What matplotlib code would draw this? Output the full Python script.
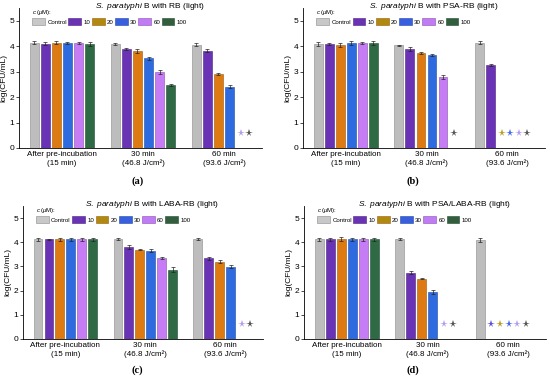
import numpy as np
import matplotlib.pyplot as plt
from matplotlib.patches import Patch

plt.rcParams['font.family'] = 'Liberation Sans'
plt.rcParams['mathtext.fontset'] = 'custom'
plt.rcParams['mathtext.rm'] = 'Liberation Sans'
plt.rcParams['mathtext.it'] = 'Liberation Sans:italic'

groups = ['After pre-incubation\n(15 min)', '30 min\n(46.8 J/cm²)', '60 min\n(93.6 J/cm²)']
series = ['Control', '10', '20', '30', '60', '100']
colors = ['#bdbdbd', '#6a32b4', '#de7a12', '#2f6be0', '#c57cf5', '#2e6b45']
edges = ['#8a8a8a', '#4a2080', '#9a5a0a', '#1f4aa0', '#8a50b0', '#1d4a2e']
legend_colors = ['#c8c8c8', '#6a32b4', '#b08a0e', '#3a5ee0', '#c07cf5', '#335e3e']
star_colors = ['#999999', '#5a52d8', '#b8a020', '#4a6ae8', '#b49cf0', '#555555']

titles = ['with RB (light)', 'with PSA-RB (light)', 'with LABA-RB (light)', 'with PSA/LABA-RB (light)']
panel_tags = ['(a)', '(b)', '(c)', '(d)']

# values per panel: rows = time groups, cols = series; nan = no survivors (star)
nan = np.nan
vals_a = [[4.13, 4.09, 4.13, 4.12, 4.12, 4.09],
          [4.09, 3.88, 3.80, 3.52, 2.98, 2.46],
          [4.05, 3.83, 2.89, 2.41, nan, nan]]
err_a = [[0.06, 0.06, 0.06, 0.03, 0.05, 0.07],
         [0.05, 0.03, 0.08, 0.07, 0.08, 0.04],
         [0.06, 0.07, 0.04, 0.05, 0, 0]]
vals_b = [[4.10, 4.10, 4.05, 4.13, 4.13, 4.13],
          [4.03, 3.88, 3.73, 3.66, 2.79, nan],
          [4.13, 3.25, nan, nan, nan, nan]]
err_b = [[0.08, 0.04, 0.07, 0.07, 0.05, 0.07],
         [0.03, 0.08, 0.04, 0.03, 0.07, 0],
         [0.06, 0.04, 0, 0, 0, 0]]
vals_c = [[4.12, 4.12, 4.12, 4.12, 4.12, 4.12],
          [4.13, 3.81, 3.70, 3.65, 3.36, 2.86],
          [4.13, 3.33, 3.19, 2.99, nan, nan]]
err_c = [[0.07, 0.03, 0.07, 0.06, 0.07, 0.07],
         [0.04, 0.08, 0.04, 0.07, 0.04, 0.1],
         [0.05, 0.05, 0.06, 0.05, 0, 0]]
vals_d = [[4.12, 4.12, 4.12, 4.12, 4.12, 4.12],
          [4.13, 2.74, 2.50, 1.95, nan, nan],
          [4.10, nan, nan, nan, nan, nan]]
err_d = [[0.05, 0.06, 0.08, 0.05, 0.05, 0.06],
         [0.05, 0.07, 0.04, 0.09, 0, 0],
         [0.07, 0, 0, 0, 0, 0]]
star_level = 0.6

all_vals = [vals_a, vals_b, vals_c, vals_d]
all_errs = [err_a, err_b, err_c, err_d]

# axes rectangles in figure fractions [left, bottom, width, height]
rects = [[0.0345, 0.6156, 0.442, 0.3636],
         [0.551, 0.6156, 0.440, 0.3636],
         [0.0418, 0.1195, 0.436, 0.3455],
         [0.5527, 0.1195, 0.440, 0.3455]]
tag_pos = [(0.25, 0.53), (0.75, 0.53), (0.25, 0.038), (0.75, 0.038)]

slot = 0.137
width = 0.11

fig = plt.figure(figsize=(5.5, 3.85), dpi=100)

for p in range(4):
    ax = fig.add_axes(rects[p])
    vals = np.array(all_vals[p])
    errs = np.array(all_errs[p])
    x = np.arange(len(groups))
    for i, s in enumerate(series):
        xi = x + (i - 2.5) * slot
        v = vals[:, i]
        ok = ~np.isnan(v)
        ax.bar(xi[ok], v[ok], width, color=colors[i], edgecolor=edges[i], linewidth=0.4, zorder=2)
        ax.errorbar(xi[ok], v[ok], yerr=errs[ok, i], fmt='none', ecolor='#222222',
                    elinewidth=0.5, capsize=1.6, capthick=0.5, zorder=3)
    # stars for series without survivors
    for g in range(len(groups)):
        miss = [i for i in range(len(series)) if np.isnan(vals[g, i])]
        for k, i in enumerate(miss):
            sx = g + (miss[0] - 2.5) * slot + k * 0.78 * slot
            ax.plot(sx, star_level, marker='*', ms=5.5, color=star_colors[i],
                    markeredgewidth=0, zorder=3)
    ax.set_xlim(-0.53, 2.47)
    ax.set_ylim(0, 5.5)
    ax.set_yticks(range(6))
    ax.set_xticks(x)
    ax.set_xticklabels(groups, fontsize=5.8, linespacing=1.35)
    ax.tick_params(axis='x', length=0, pad=2)
    ax.tick_params(axis='y', labelsize=6, length=2, width=0.5, pad=1.5)
    ax.spines['top'].set_visible(False)
    ax.spines['right'].set_visible(False)
    ax.spines['left'].set_linewidth(0.6)
    ax.spines['bottom'].set_linewidth(0.6)
    ax.set_ylabel('log(CFU/mL)', fontsize=6, labelpad=1.5)
    ax.text(0.54, 1.01, r'$\mathit{S.\ paratyphi}$ B ' + titles[p], transform=ax.transAxes,
            ha='center', va='center', fontsize=6)
    handles = [Patch(facecolor=legend_colors[i], edgecolor=edges[i], linewidth=0.4) for i in range(len(series))]
    leg = ax.legend(handles, series, ncol=6, loc='upper left', bbox_to_anchor=(0.045, 1.02),
                    fontsize=4.4, frameon=False, handlelength=2.1, handleheight=1.4,
                    handletextpad=0.35, columnspacing=0.25, borderaxespad=0,
                    title=r'$\mathit{c}$ ($\mu$M):', title_fontsize=4.3, alignment='left')
    leg._legend_box.sep = 1.0
    fig.text(tag_pos[p][0], tag_pos[p][1], panel_tags[p], ha='center', va='center',
             fontsize=7.5, fontweight='bold', family='Liberation Serif')

fig.savefig('out.png', dpi=100)
